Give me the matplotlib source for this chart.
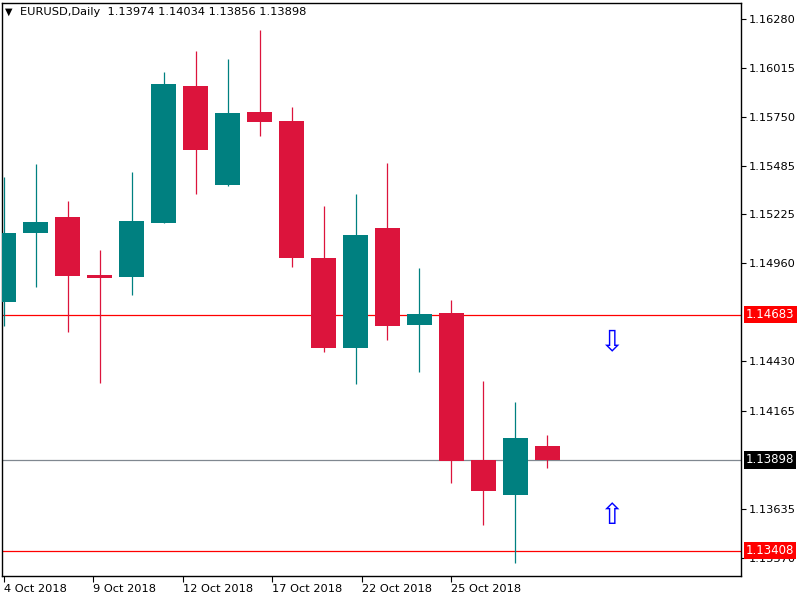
import matplotlib
matplotlib.use("Agg")
import matplotlib.pyplot as plt
import matplotlib.transforms as mtransforms
import numpy as np

plt.rcParams['font.family'] = ['DejaVu Sans']

# ---- data (EURUSD daily) ----
bar_index = list(range(18))
opens  = [1.14753, 1.15126, 1.15210, 1.14897, 1.14888, 1.15180, 1.15918, 1.15385, 1.15778,
          1.15729, 1.14989, 1.14505, 1.15151, 1.14629, 1.14692, 1.13898, 1.13711, 1.13974]
highs  = [1.15428, 1.15497, 1.15297, 1.15032, 1.15454, 1.15994, 1.16107, 1.16064, 1.16221,
          1.15805, 1.15270, 1.15335, 1.15502, 1.14935, 1.14762, 1.14325, 1.14211, 1.14034]
lows   = [1.14623, 1.14834, 1.14591, 1.14316, 1.14791, 1.15178, 1.15336, 1.15380, 1.15650,
          1.14942, 1.14483, 1.14310, 1.14548, 1.14375, 1.13775, 1.13549, 1.13343, 1.13856]
closes = [1.15124, 1.15184, 1.14892, 1.14883, 1.15189, 1.15929, 1.15574, 1.15772, 1.15725,
          1.14991, 1.14505, 1.15113, 1.14623, 1.14687, 1.13894, 1.13732, 1.14017, 1.13898]

price_ticks = [1.16280, 1.16015, 1.15750, 1.15485, 1.15225, 1.14960,
               1.14430, 1.14165, 1.13635, 1.13370]
date_tick_pos = [0.0, 2.8, 5.6, 8.4, 11.2, 14.0]
date_tick_labels = ["4 Oct 2018", "9 Oct 2018", "12 Oct 2018",
                    "17 Oct 2018", "22 Oct 2018", "25 Oct 2018"]

level_prices = [1.14683, 1.13408]      # red horizontal lines
bid_price = 1.13898                    # bid line
arrow_x = [19, 19]
arrow_y = [1.14535, 1.13596]
arrow_glyphs = ["\u21e9", "\u21e7"]

header = "EURUSD,Daily  1.13974 1.14034 1.13856 1.13898"

# ---- styling ----
BULL = '#008080'
BEAR = '#DC143C'
FS = 8.2

fig = plt.figure(figsize=(8, 6), dpi=100)
W, H = 800, 600
ax = fig.add_axes([2 / W, 1 - 576 / H, (741 - 2) / W, (576 - 3) / H])
ax.set_facecolor('white')

for i, o, h, l, c in zip(bar_index, opens, highs, lows, closes):
    col = BULL if c >= o else BEAR
    ax.vlines(i, l, h, color=col, linewidth=0.9, zorder=2)
    bottom = min(o, c)
    height = max(abs(c - o), 0.00004)
    ax.bar(i, height, bottom=bottom, width=0.78, color=col, linewidth=0, zorder=3)

for p in level_prices:
    ax.axhline(p, color='#FF0000', linewidth=0.9, zorder=1)
ax.axhline(bid_price, color='#808890', linewidth=0.9, zorder=1)

for x, y, g in zip(arrow_x, arrow_y, arrow_glyphs):
    ax.text(x, y, g, color='#0000FF', fontsize=21,
            ha='center', va='center', zorder=4)

ax.set_xlim(-0.047, 23.047)
ax.set_ylim(1.132714, 1.163664)

# y axis on right
ax.yaxis.tick_right()
ax.set_yticks(price_ticks)
ax.set_yticklabels([f"{p:.5f}" for p in price_ticks])
ax.tick_params(axis='y', direction='out', length=3.5, width=0.8, pad=2,
               labelsize=FS, colors='black')
ax.set_xticks(date_tick_pos)
ax.set_xticklabels(date_tick_labels, ha='left')
ax.tick_params(axis='x', direction='out', length=4, width=0.8, pad=2, labelsize=FS)
for lbl in ax.get_xticklabels():
    lbl.set_horizontalalignment('left')

for s in ax.spines.values():
    s.set_color('black')
    s.set_linewidth(1.0)

# price labels on the axis
trans = mtransforms.blended_transform_factory(ax.transAxes, ax.transData)
offset = mtransforms.ScaledTranslation(5 / 100, 0, fig.dpi_scale_trans)
for p in level_prices:
    ax.text(1.0, p, f"{p:.5f}", transform=trans + offset, color='white', fontsize=FS + 0.3,
            ha='left', va='center', clip_on=False, zorder=10,
            bbox=dict(boxstyle='square,pad=0.18', fc='#FF0000', ec='none'))
ax.text(1.0, bid_price, f"{bid_price:.5f}", transform=trans + offset, color='white',
        fontsize=FS + 0.3, ha='left', va='center', clip_on=False, zorder=10,
        bbox=dict(boxstyle='square,pad=0.18', fc='black', ec='none'))

# header
fig.text(5 / W, 1 - 12 / H, "\u25bc", fontsize=7, va='center', ha='left')
fig.text(20 / W, 1 - 12 / H, header, fontsize=FS, va='center', ha='left')

fig.savefig('out.png', dpi=100)
